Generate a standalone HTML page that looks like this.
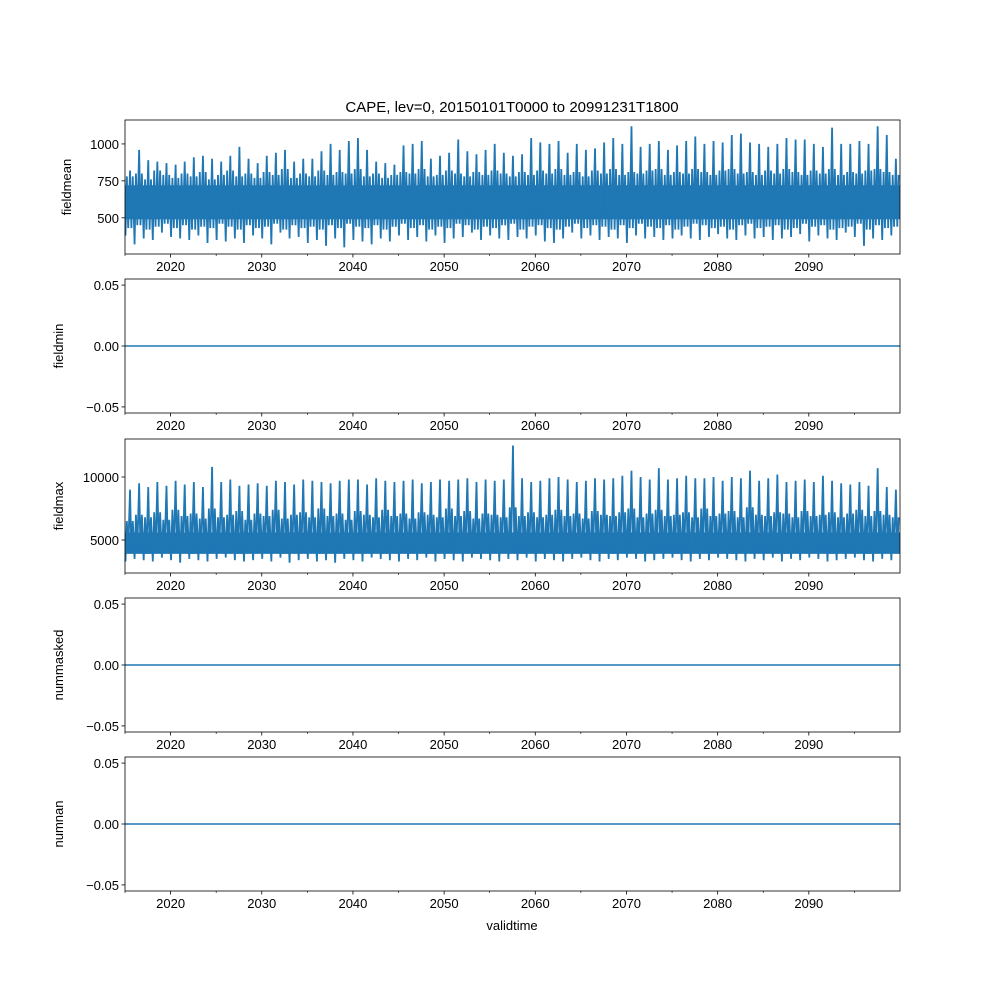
<!DOCTYPE html>
<html><head><meta charset="utf-8"><style>
body{margin:0;background:#fff;}
svg text{font-family:"Liberation Sans","DejaVu Sans",sans-serif;font-size:13px;fill:#000;}
</style></head><body>
<svg id="fig" width="1000" height="1000" xmlns="http://www.w3.org/2000/svg">
<text x="512" y="112" text-anchor="middle" style="font-size:15px">CAPE, lev=0, 20150101T0000 to 20991231T1800</text>
<text x="512" y="930" text-anchor="middle">validtime</text>
</svg>
<script>
const years = [];
for (let y = 2015; y < 2100; y++) years.push(y);
const meanMax = [820,960,890,880,870,860,880,910,920,900,880,920,980,900,870,920,940,960,880,900,900,950,1000,960,1020,1040,960,880,870,860,990,1000,1020,900,920,940,1030,950,930,960,1000,940,920,930,1040,1010,1000,1020,940,1000,960,970,1010,1040,1000,1120,980,1000,1020,960,990,1020,1050,1000,1020,1010,1060,1070,1010,1000,980,1000,1040,1030,1030,1000,980,1110,1000,1000,1020,1000,1120,1060,900];
const meanMax2 = [780,800,760,820,790,770,800,780,810,760,790,820,780,800,770,810,790,830,770,800,780,820,790,810,800,830,780,800,770,790,810,800,830,780,790,820,800,780,810,790,820,800,780,810,790,820,800,830,790,810,780,820,800,830,790,810,800,820,830,790,810,800,830,810,790,820,830,800,810,790,820,800,830,810,790,820,800,830,790,810,800,820,830,810,790];
const meanMin = [380,320,360,350,400,370,360,350,380,330,350,340,360,330,380,360,320,400,360,370,330,350,310,360,300,350,340,320,360,340,380,350,370,340,380,330,360,370,400,350,380,360,350,370,360,380,340,330,360,400,360,380,350,370,360,330,380,360,370,350,360,380,360,350,370,390,360,350,380,360,370,350,360,370,390,340,380,360,350,400,370,310,360,350,380];
const meanMin2 = [430,450,420,440,460,430,450,420,440,430,460,440,420,450,430,440,460,420,450,430,440,420,450,430,460,440,430,450,420,440,460,430,450,420,440,430,460,450,420,440,430,450,460,420,440,450,430,420,440,460,430,450,440,420,450,430,460,440,430,450,420,440,460,450,430,440,420,450,460,430,440,450,420,430,460,440,450,420,430,440,460,420,450,430,440];
const maxMax = [9000,9500,9200,9600,9300,9700,9400,9600,9200,10800,9600,9800,9300,9400,9500,9300,9700,9600,9400,9800,9700,9600,9500,9700,9800,9800,9400,9900,9700,9600,9700,9800,9500,9600,9800,9700,9800,9900,9600,9800,9700,9800,12500,9900,9600,9700,9900,10000,9800,9600,9700,9900,9800,9900,10100,10500,10000,9800,10700,9800,9900,10100,9900,9900,10000,9700,10000,9900,10500,9700,9900,10200,9600,9700,9800,9600,10100,9700,9500,9400,9600,9300,10700,9200,9000];
const maxMax2 = [6500,7000,6800,7200,6600,7400,6900,7100,6700,7500,6800,7000,7300,6600,7100,6900,7400,6700,7000,7200,6800,7500,6900,7100,6600,7300,7000,6800,7400,6900,7100,6700,7200,7000,6800,7500,6900,7300,6700,7100,7000,6800,7600,6900,7200,6800,7000,7400,6900,7100,6700,7300,7000,6900,7200,7500,6800,7100,7400,6900,7000,7200,6800,7500,6900,7100,7300,6800,7600,7000,6900,7200,7100,6800,7300,6900,7000,7200,6800,7100,7400,6900,7300,7000,6800];
const maxMin = [3300,3500,3400,3300,3600,3400,3200,3500,3400,3300,3500,3600,3400,3300,3400,3500,3300,3600,3200,3400,3500,3300,3400,3200,3500,3400,3300,3600,3500,3400,3300,3500,3400,3600,3300,3500,3400,3300,3600,3500,3400,3300,3500,3400,3600,3300,3500,3400,3300,3500,3600,3400,3300,3500,3400,3600,3500,3300,3400,3500,3600,3400,3300,3500,3400,3600,3500,3400,3300,3500,3400,3600,3300,3500,3400,3600,3500,3300,3400,3500,3600,3400,3300,3500,3400];
const maxMin2 = [4000,4200,3900,4100,4300,4000,4200,3900,4100,4000,4300,4100,3900,4200,4000,4100,4300,3900,4200,4000,4100,3900,4200,4000,4300,4100,4000,4200,3900,4100,4300,4000,4200,3900,4100,4000,4300,4200,3900,4100,4000,4200,4300,3900,4100,4200,4000,3900,4100,4300,4000,4200,4100,3900,4200,4000,4300,4100,4000,4200,3900,4100,4300,4200,4000,4100,3900,4200,4300,4000,4100,4200,3900,4000,4300,4100,4200,3900,4000,4100,4300,3900,4200,4000,4100];
const meanCore = [490, 720];
const maxCore = [3900, 5600];
const xTicks = [2020,2030,2040,2050,2060,2070,2080,2090];
const xMinor = [2015,2025,2035,2045,2055,2065,2075,2085,2095];
const panels = [
 {name:'fieldmean', top:120, lim:[255,1162], ticks:[500,750,1000], labels:['500','750','1000'], hi:meanMax, hi2:meanMax2, lo:meanMin, lo2:meanMin2, core:meanCore},
 {name:'fieldmin', top:279, lim:[-0.055,0.055], ticks:[-0.05,0,0.05], labels:['−0.05','0.00','0.05']},
 {name:'fieldmax', top:439, lim:[2381,13016], ticks:[5000,10000], labels:['5000','10000'], hi:maxMax, hi2:maxMax2, lo:maxMin, lo2:maxMin2, core:maxCore},
 {name:'nummasked', top:598, lim:[-0.055,0.055], ticks:[-0.05,0,0.05], labels:['−0.05','0.00','0.05']},
 {name:'numnan', top:757, lim:[-0.055,0.055], ticks:[-0.05,0,0.05], labels:['−0.05','0.00','0.05']}
];
const L=125, R=900, H=134, C='#1f77b4';
const svg=document.getElementById('fig');
const NS='http://www.w3.org/2000/svg';
function mk(t,a,p){const e=document.createElementNS(NS,t);for(const k in a)e.setAttribute(k,a[k]);(p||svg).appendChild(e);return e;}
const xs=v=>L+(v-2015)/(2100-2015)*(R-L);
panels.forEach(p=>{
 const g=mk('g',{});
 
 
 const ys=v=>p.top+H-(v-p.lim[0])/(p.lim[1]-p.lim[0])*H;
 if(p.hi){
  const band=mk('rect',{x:L,y:ys(p.core[1]),width:R-L,height:ys(p.core[0])-ys(p.core[1]),fill:C},g);
  
  
  let pts=[];
  years.forEach((y,i)=>{
   pts.push(xs(y+0.05)+','+ys(p.lo[i]));
   pts.push(xs(y+0.2)+','+ys(p.hi2[i]));
   pts.push(xs(y+0.35)+','+ys(p.lo2[i]));
   pts.push(xs(y+0.55)+','+ys(p.hi[i]));
   pts.push(xs(y+0.7)+','+ys(p.lo2[i]));
   pts.push(xs(y+0.85)+','+ys(p.hi2[i]));
  });
  const ln=mk('polyline',{points:pts.join(' '),fill:'none',stroke:C,'stroke-width':1.8},g);
  
  
 } else {
  const ln=mk('line',{x1:L,x2:R,y1:ys(0),y2:ys(0),stroke:C,'stroke-width':1.5},g);
  
  
 }
 const fr=mk('rect',{x:L,y:p.top,width:R-L,height:H,fill:'none',stroke:'#000','stroke-width':0.8},g);
 
 
 p.ticks.forEach((t,i)=>{
  mk('line',{x1:L-3.5,x2:L,y1:ys(t),y2:ys(t),stroke:'#000','stroke-width':0.8},g);
  const tx=mk('text',{x:L-6,y:ys(t)+5,'text-anchor':'end'},g);tx.textContent=p.labels[i];
  
  
 });
 xTicks.forEach(t=>{
  mk('line',{x1:xs(t),x2:xs(t),y1:p.top+H,y2:p.top+H+3.5,stroke:'#000','stroke-width':0.8},g);
  const tx=mk('text',{x:xs(t),y:p.top+H+17,'text-anchor':'middle'},g);tx.textContent=t;
  
  
 });
 xMinor.forEach(t=>mk('line',{x1:xs(t),x2:xs(t),y1:p.top+H,y2:p.top+H+2,stroke:'#000','stroke-width':0.6},g));
 const yl=mk('text',{transform:`translate(${p.name==='fieldmean'?71:63},${p.top+H/2}) rotate(-90)`,'text-anchor':'middle'},g);
 yl.textContent=p.name;
 
 
});
</script>
</body></html>
